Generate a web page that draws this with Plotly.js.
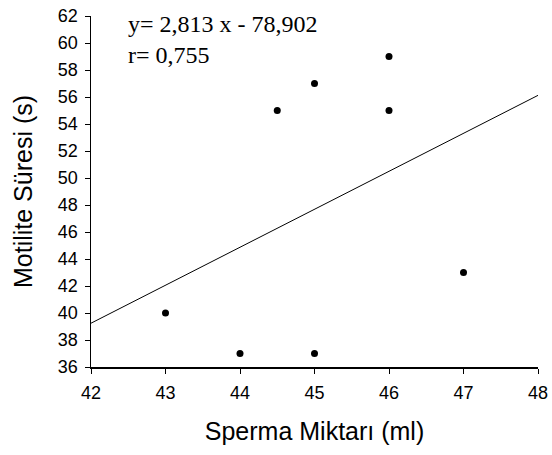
<!DOCTYPE html>
<html>
<head>
<meta charset="utf-8">
<script src="https://cdn.plot.ly/plotly-3.0.1.min.js"></script>
<style>
  html, body { margin: 0; padding: 0; background: #fff; }
  #chart { width: 552px; height: 455px; }
</style>
</head>
<body>
<div id="chart"></div>
<script>
// Observations: sperm volume (ml) vs. motility duration (s)
const spermaMiktari = [43, 44, 44.5, 45, 45, 46, 46, 47];
const motiliteSuresi = [40, 37, 55, 57, 37, 59, 55, 43];

// Fitted regression line y = a x + b and correlation
const slope = 2.813;
const intercept = -78.902;
const rValue = 0.755;
const lineX = [42, 48];

const xTicks = [42, 43, 44, 45, 46, 47, 48];
const yTicks = [36, 38, 40, 42, 44, 46, 48, 50, 52, 54, 56, 58, 60, 62];

const fmt = (v, d) => v.toFixed(d).replace('.', ',');
const eqText = 'y= ' + fmt(slope, 3) + ' x - ' + fmt(Math.abs(intercept), 3);
const rText = 'r= ' + fmt(rValue, 3);

const traces = [
  {
    x: lineX,
    y: lineX.map(v => slope * v + intercept),
    mode: 'lines',
    line: { color: '#000', width: 1 },
    hoverinfo: 'skip'
  },
  {
    x: spermaMiktari,
    y: motiliteSuresi,
    mode: 'markers',
    marker: { color: '#000', size: 7 }
  }
];

const sans = 'Liberation Sans, Arial, sans-serif';
const axisFont = { family: sans, size: 18, color: '#000' };
const titleFont = { family: sans, size: 25, color: '#000' };

const layout = {
  width: 552,
  height: 455,
  margin: { l: 91, r: 14, t: 16, b: 88 },
  paper_bgcolor: '#fff',
  plot_bgcolor: '#fff',
  showlegend: false,
  xaxis: {
    range: [42, 48],
    tickvals: xTicks,
    ticktext: xTicks.map(String),
    ticks: 'outside',
    ticklen: 5,
    tickcolor: '#000',
    tickwidth: 1,
    ticklabelstandoff: 4,
    showline: true,
    linecolor: '#000',
    linewidth: 1.5,
    showgrid: false,
    zeroline: false,
    tickfont: axisFont,
    title: { text: 'Sperma Miktarı (ml)', font: titleFont, standoff: 20 }
  },
  yaxis: {
    range: [36, 62],
    tickvals: yTicks,
    ticktext: yTicks.map(String),
    ticks: 'outside',
    ticklen: 5,
    tickcolor: '#000',
    tickwidth: 1,
    ticklabelstandoff: 3,
    showline: true,
    linecolor: '#000',
    linewidth: 1.5,
    showgrid: false,
    zeroline: false,
    tickfont: axisFont,
    title: { text: 'Motilite Süresi (s)', font: titleFont, standoff: 18 }
  },
  annotations: [
    {
      xref: 'paper', yref: 'paper',
      x: 0.078, y: 1.02,
      xanchor: 'left', yanchor: 'top',
      align: 'left',
      showarrow: false,
      text: eqText + '<br>' + rText,
      font: { family: 'Liberation Serif, Times New Roman, serif', size: 24, color: '#000' }
    }
  ]
};

Plotly.newPlot('chart', traces, layout, { displayModeBar: false, staticPlot: true });
</script>
</body>
</html>
